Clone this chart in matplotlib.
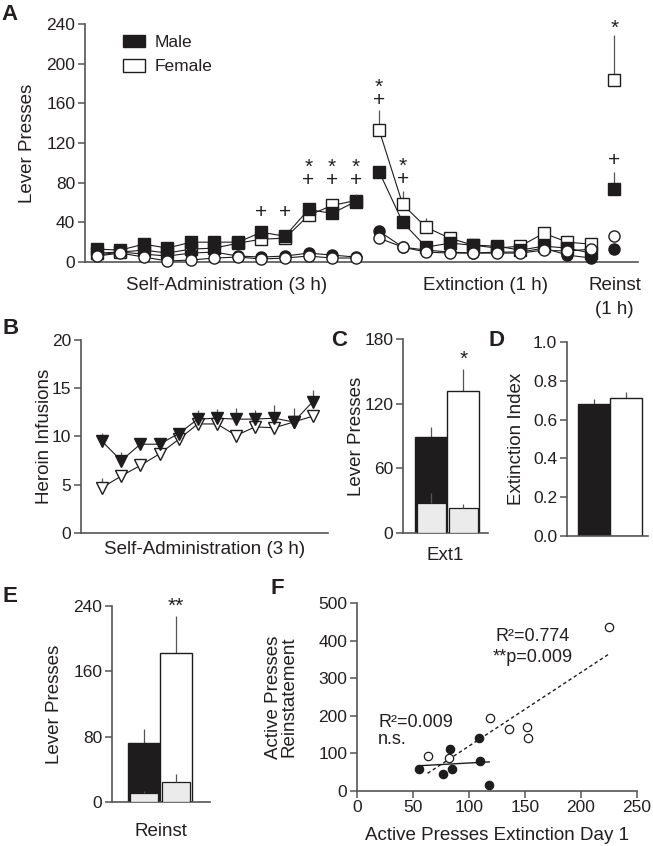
import numpy as np
import matplotlib
matplotlib.use('Agg')
import matplotlib.pyplot as plt
from matplotlib.patches import Patch

plt.rcParams['font.family'] = ['Liberation Sans', 'DejaVu Sans']
plt.rcParams['font.size'] = 12.5
plt.rcParams['axes.linewidth'] = 1.2
plt.rcParams['axes.edgecolor'] = '#555555'
plt.rcParams['xtick.color'] = '#555555'
plt.rcParams['ytick.color'] = '#555555'
plt.rcParams['xtick.labelcolor'] = '#231f20'
plt.rcParams['ytick.labelcolor'] = '#231f20'
plt.rcParams['xtick.major.size'] = 5
plt.rcParams['ytick.major.size'] = 5
plt.rcParams['xtick.major.width'] = 1.1
plt.rcParams['ytick.major.width'] = 1.1
plt.rcParams['xtick.major.pad'] = 2
plt.rcParams['ytick.major.pad'] = 2
plt.rcParams['xtick.labelsize'] = 12.5
plt.rcParams['ytick.labelsize'] = 12.5
plt.rcParams['axes.labelsize'] = 13.5
plt.rcParams['text.color'] = '#231f20'
plt.rcParams['axes.labelcolor'] = '#231f20'

# ---------------- DATA ----------------
# Panel A: lever presses (self-administration 12 sessions, extinction 10 sessions, reinstatement)
sa_male_active = [13, 12, 18, 14, 20, 20, 20, 30, 26, 53, 49, 61]
sa_female_active = [9, 10, 12, 9, 13, 14, 19, 23, 24, 47, 57, 62]
sa_male_inactive = [7, 10, 8, 6, 9, 10, 6, 5, 6, 9, 7, 5]
sa_female_inactive = [6, 9, 5, 1, 2, 4, 5, 3, 4, 6, 4, 4]
sa_male_active_err = [2, 2, 2, 2, 3, 3, 2, 3, 3, 6, 4, 8]
sa_female_active_err = [2, 2, 2, 2, 2, 2, 2, 3, 3, 4, 7, 4]

ext_male_active = [91, 40, 15, 19, 17, 16, 12, 16, 14, 9]
ext_female_active = [133, 58, 35, 24, 17, 14, 16, 29, 20, 18]
ext_male_inactive = [31, 15, 12, 10, 9, 10, 10, 14, 7, 4]
ext_female_inactive = [24, 15, 10, 9, 9, 9, 9, 12, 11, 13]
ext_male_active_err = [6, 3, 2, 3, 2, 2, 2, 2, 2, 2]
ext_female_active_err = [20, 14, 9, 3, 2, 2, 2, 5, 5, 3]

reinst_male_active, reinst_female_active = 74, 184
reinst_male_inactive, reinst_female_inactive = 13, 26
reinst_male_active_err, reinst_female_active_err = 17, 45

# significance marks in A: (session index, symbols, baseline y value)
a_marks = [(7, '+', 44), (8, '+', 44),
           (9, '*\n+', 77), (10, '*\n+', 77), (11, '*\n+', 77),
           (12, '*\n+', 157), (13, '*\n+', 78),
           (22, '+', 97), (22, '*', 230)]
a_group_labels = ['Self-Administration (3 h)', 'Extinction (1 h)', 'Reinst\n(1 h)']

# Panel B: heroin infusions
b_male = [9.5, 7.5, 9.2, 9.2, 10.3, 11.8, 11.9, 11.8, 11.8, 11.9, 11.5, 13.6]
b_female = [4.7, 5.9, 7.0, 8.2, 9.7, 11.3, 11.3, 10.1, 11.0, 10.9, 11.5, 12.1]
b_male_err = [0.9, 0.9, 0.6, 0.6, 0.5, 0.9, 0.9, 1.2, 0.9, 1.4, 1.5, 1.2]
b_female_err = [1.0, 0.5, 0.4, 0.4, 0.4, 0.4, 0.4, 0.5, 0.4, 0.5, 0.4, 0.5]

# Panel C: Ext1 lever presses [male, female]
c_active = [89, 132]
c_active_err = [9, 20]
c_inactive = [28, 23]
c_inactive_err = [9, 4]

# Panel D: extinction index [male, female]
d_index = [0.68, 0.71]
d_index_err = [0.025, 0.03]

# Panel E: reinstatement lever presses [male, female]
e_active = [72, 182]
e_active_err = [17, 46]
e_inactive = [11, 25]
e_inactive_err = [2, 9]

# Panel F: scatter
f_male_x = [55, 83, 77, 85, 109, 110, 118]
f_male_y = [59, 112, 45, 58, 140, 81, 16]
f_female_x = [63, 82, 119, 136, 152, 153, 225]
f_female_y = [93, 87, 195, 164, 170, 142, 436]

BLACK = '#1e1c1d'
GRAY = '#ebebeb'
ECOL = '#555555'
SIGSIZE = 15

W, H = 653, 846
fig = plt.figure(figsize=(W / 100, H / 100), dpi=100)


def add_ax(l, r, t, b):
    ax = fig.add_axes([l / W, 1 - b / H, (r - l) / W, (b - t) / H])
    ax.spines['top'].set_visible(False)
    ax.spines['right'].set_visible(False)
    return ax


def panel_letter(x, y, s):
    fig.text(x / W, 1 - y / H, s, fontsize=16, fontweight='bold', ha='center', va='center')


def up_err(ax, x, y, e, z=2, lw=0.9):
    ax.errorbar(x, y, yerr=[np.zeros(len(np.atleast_1d(e))), np.atleast_1d(e)], fmt='none',
                ecolor=ECOL, elinewidth=lw, capsize=0, zorder=z, clip_on=False)


def sig(ax, x, y, s):
    ax.text(x, y, s, ha='center', va='baseline', fontsize=SIGSIZE, linespacing=0.6)


# ---------------- Panel A ----------------
axA = add_ax(85, 638, 24, 262)
n_sa = len(sa_male_active)
n_ext = len(ext_male_active)
x_sa = np.arange(n_sa)
x_ext = np.arange(n_sa, n_sa + n_ext)
x_re = n_sa + n_ext

series = [
    (sa_female_active, ext_female_active, reinst_female_active, 's', 'white', sa_female_active_err, ext_female_active_err, reinst_female_active_err, 3),
    (sa_male_active, ext_male_active, reinst_male_active, 's', BLACK, sa_male_active_err, ext_male_active_err, reinst_male_active_err, 4),
    (sa_male_inactive, ext_male_inactive, reinst_male_inactive, 'o', BLACK, None, None, None, 5),
    (sa_female_inactive, ext_female_inactive, reinst_female_inactive, 'o', 'white', None, None, None, 6),
]
for sa, ext, re, mk, fc, esa, eext, ere, z in series:
    kw = dict(color=BLACK, lw=0.8, marker=mk, markersize=8, markerfacecolor=fc,
              markeredgecolor=BLACK, markeredgewidth=1.0, zorder=z, clip_on=False)
    axA.plot(x_sa, sa, **kw)
    axA.plot(x_ext, ext, **kw)
    axA.plot([x_re], [re], **kw)
    if esa is not None:
        up_err(axA, x_sa, sa, esa, z=z - 0.5)
        up_err(axA, x_ext, ext, eext, z=z - 0.5)
        up_err(axA, [x_re], [re], [ere], z=z - 0.5)

for xi, sym, yv in a_marks:
    sig(axA, xi, yv, sym)

axA.set_xlim(-0.5, 23.0)
axA.set_ylim(0, 240)
axA.set_yticks(np.arange(0, 241, 40))
axA.set_xticks([])
axA.set_ylabel('Lever Presses')
axA.yaxis.set_label_coords(-0.0886, 0.5)
grp_x = [np.mean(x_sa), np.mean(x_ext), x_re]
axA.text(grp_x[0], -0.10, a_group_labels[0], transform=axA.get_xaxis_transform(),
         ha='center', va='center', fontsize=13.5)
axA.text(grp_x[1], -0.10, a_group_labels[1], transform=axA.get_xaxis_transform(),
         ha='center', va='center', fontsize=13.5)
axA.text(grp_x[2], -0.10, a_group_labels[2].split('\n')[0], transform=axA.get_xaxis_transform(),
         ha='center', va='center', fontsize=13.5)
axA.text(grp_x[2], -0.20, a_group_labels[2].split('\n')[1], transform=axA.get_xaxis_transform(),
         ha='center', va='center', fontsize=13.5)
handles = [Patch(facecolor=BLACK, edgecolor=BLACK, label='Male'),
           Patch(facecolor='white', edgecolor=BLACK, label='Female')]
axA.legend(handles=handles, loc='upper left', bbox_to_anchor=(0.069, 0.955), frameon=False,
           borderpad=0, borderaxespad=0, handlelength=1.27, handleheight=0.75,
           handletextpad=0.55, labelspacing=0.5, fontsize=12.5)

# ---------------- Panel B ----------------
axB = add_ax(81, 328, 340, 533)
xb = np.arange(len(b_male))
up_err(axB, xb, b_male, b_male_err, z=3)
up_err(axB, xb, b_female, b_female_err, z=3)
axB.plot(xb, b_female, color=BLACK, lw=0.8, marker='v', markersize=9, markerfacecolor='white',
         markeredgecolor=BLACK, markeredgewidth=1.0, zorder=4, clip_on=False)
axB.plot(xb, b_male, color=BLACK, lw=0.8, marker='v', markersize=9, markerfacecolor=BLACK,
         markeredgecolor=BLACK, markeredgewidth=1.0, zorder=5, clip_on=False)
axB.set_xlim(-1.1, 11.8)
axB.set_ylim(0, 20)
axB.set_yticks([0, 5, 10, 15, 20])
axB.set_xticks([])
axB.set_ylabel('Heroin Infusions')
axB.yaxis.set_label_coords(-0.1134, 0.5)
axB.set_xlabel('Self-Administration (3 h)')
axB.xaxis.set_label_coords(0.5, -0.04)


def stacked_bars(ax, active, aerr, inactive=None, ierr=None):
    xs = np.arange(len(active))
    ax.bar(xs, active, width=1.0, color=[BLACK, 'white'], edgecolor=BLACK, linewidth=1.0, zorder=2)
    up_err(ax, xs, active, aerr, z=1.5)
    if inactive is not None:
        ax.bar(xs, inactive, width=0.9, color=GRAY, edgecolor=BLACK, linewidth=0.9, zorder=3)
        up_err(ax, xs, inactive, ierr, z=3.5)
    ax.set_xticks([])


# ---------------- Panel C ----------------
axC = add_ax(403, 488, 339, 533)
stacked_bars(axC, c_active, c_active_err, c_inactive, c_inactive_err)
axC.set_xlim(-0.89, 1.77)
axC.set_ylim(0, 180)
axC.set_yticks([0, 60, 120, 180])
axC.set_ylabel('Lever Presses')
axC.yaxis.set_label_coords(-0.45, 0.5)
axC.set_xlabel('Ext1')
axC.xaxis.set_label_coords(0.5, -0.07)
sig(axC, 1, 156, '*')

# ---------------- Panel D ----------------
axD = add_ax(567, 648, 342, 536)
stacked_bars(axD, d_index, d_index_err)
axD.set_xlim(-0.84, 1.69)
axD.set_ylim(0, 1.0)
axD.set_yticks(np.round(np.arange(0, 1.01, 0.2), 1))
axD.set_yticklabels([f'{v:.1f}' for v in np.arange(0, 1.01, 0.2)])
axD.set_ylabel('Extinction Index')
axD.yaxis.set_label_coords(-0.519, 0.5)

# ---------------- Panel E ----------------
axE = add_ax(112, 210, 606, 802)
stacked_bars(axE, e_active, e_active_err, e_inactive, e_inactive_err)
axE.set_xlim(-1.0, 2.06)
axE.set_ylim(0, 240)
axE.set_yticks([0, 80, 160, 240])
axE.set_ylabel('Lever Presses')
axE.yaxis.set_label_coords(-0.50, 0.5)
axE.set_xlabel('Reinst')
axE.xaxis.set_label_coords(0.5, -0.105)
sig(axE, 1, 233, '**')

# ---------------- Panel F ----------------
axF = add_ax(357, 637, 603, 791)
mfit = np.polyfit(f_male_x, f_male_y, 1)
ffit = np.polyfit(f_female_x, f_female_y, 1)
mx = np.array([min(f_male_x), max(f_male_x)])
fx = np.array([min(f_female_x), max(f_female_x)])
axF.plot(mx, np.polyval(mfit, mx), color=BLACK, lw=1.0, zorder=2)
axF.plot(fx, np.polyval(ffit, fx), color=BLACK, lw=1.0, ls=(0, (2.5, 2)), zorder=2)
axF.plot(f_female_x, f_female_y, 'o', markersize=6, markerfacecolor='white', markeredgecolor=BLACK,
         markeredgewidth=0.9, zorder=3, clip_on=False)
axF.plot(f_male_x, f_male_y, 'o', markersize=6, markerfacecolor=BLACK, markeredgecolor=BLACK,
         markeredgewidth=0.9, zorder=4, clip_on=False)
axF.set_xlim(0, 250)
axF.set_ylim(0, 500)
axF.set_xticks(np.arange(0, 251, 50))
axF.set_yticks(np.arange(0, 501, 100))
axF.tick_params(axis='x', pad=1.5)
axF.set_xlabel('Active Presses Extinction Day 1')
axF.xaxis.set_label_coords(0.5, -0.19)
axF.set_ylabel('Active Presses\nReinstatement', linespacing=0.85)
axF.yaxis.set_label_coords(-0.213, 0.5)
axF.text(157, 410, 'R\u00b2=0.774', ha='center', va='center', fontsize=13)
axF.text(157, 356, '**p=0.009', ha='center', va='center', fontsize=13)
axF.text(19, 183, 'R\u00b2=0.009', ha='left', va='center', fontsize=13)
axF.text(19, 138, 'n.s.', ha='left', va='center', fontsize=13)

# panel letters
panel_letter(10, 15, 'A')
panel_letter(11, 329, 'B')
panel_letter(339, 341, 'C')
panel_letter(496, 341, 'D')
panel_letter(10, 597, 'E')
panel_letter(277, 588, 'F')

fig.savefig('out.png', dpi=100)
